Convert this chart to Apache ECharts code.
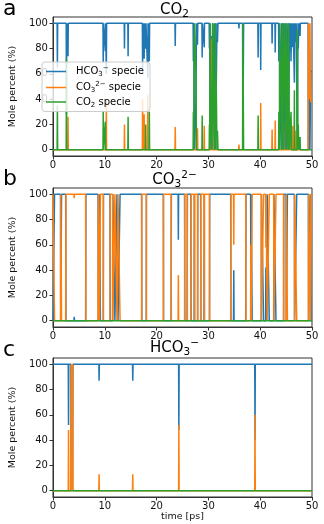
<!DOCTYPE html>
<html>
<head>
<meta charset="utf-8">
<script src="https://cdn.jsdelivr.net/npm/echarts@6.0.0/dist/echarts.min.js"></script>
<style>
  html, body { margin: 0; padding: 0; background: #fff; }
  #main { width: 324px; height: 524px; }
</style>
</head>
<body>
<div id="main"></div>
<script>
// species names, colours as in matplotlib tab10
var speciesNames = ['HCO₃⁻ specie', 'CO₃²⁻ specie', 'CO₂ specie'];
var speciesColors = ['#1f77b4', '#ff7f0e', '#2ca02c'];
var xTicks = [0, 10, 20, 30, 40, 50];
var yTicks = [0, 20, 40, 60, 80, 100];

// panel a: starting from CO2  [time ps, mole %]
var aHCO3 = [[0,100],[0.8,100],[0.85,65],[0.9,100],[2.55,100],[2.6,28],[2.65,100],[2.85,100],[2.9,74],[2.95,100],
  [9.65,100],[9.7,69],[9.75,100],[10.05,100],[10.1,78],[10.15,100],[10.25,100],[10.3,60],[10.35,100],
  [13.75,100],[13.8,80],[13.85,100],[14.45,100],[14.5,74],[14.55,100],
  [17.25,100],[17.3,60],[17.35,100],[17.55,100],[17.6,72],[17.65,100],[17.85,100],[17.9,80],[17.95,100],
  [18.25,100],[18.3,57],[18.35,100],[18.55,100],[18.6,70],[18.65,100],
  [23.55,100],[23.6,82],[23.65,100],
  [27.05,100],[27.1,70],[27.2,100],[27.25,12],[27.35,0],[27.5,0],[27.6,40],[27.7,100],[27.85,100],[27.9,83],[27.95,100],
  [28.75,100],[28.8,73],[28.85,100],[29.15,100],[29.2,81],[29.25,100],
  [30.15,100],[30.2,80],[30.25,100],[30.35,0],[30.45,0],[30.55,90],[30.7,12],[30.8,100],[30.85,0],[31.05,0],[31.15,100],
  [31.25,70],[31.3,100],[31.35,0],[31.45,0],[31.55,60],[31.65,100],[31.75,85],[31.85,100],
  [35.85,100],[35.9,96],[35.95,100],[36.6,100],[36.65,0],[36.75,0],[36.8,100],
  [39.55,100],[39.6,73],[39.65,100],[40.05,100],[40.1,63],[40.15,100],
  [42.25,100],[42.3,84],[42.35,100],[42.85,100],[42.9,77],[42.95,100],
  [43.55,100],[43.6,70],[43.7,100],[43.8,0],[43.95,0],[44.05,60],[44.15,100],[44.25,0],[44.35,0],[44.45,100],[44.5,78],[44.55,100],
  [44.65,0],[44.75,0],[44.85,50],[44.95,100],[45.05,0],[45.15,0],[45.25,85],[45.35,100],[45.45,0],[45.55,0],[45.65,100],
  [45.75,79],[45.85,100],[45.95,70],[46.05,100],[46.25,100],[46.3,81],[46.35,100],[46.55,100],[46.6,53],[46.65,100],
  [46.85,100],[46.9,85],[46.95,100],[47.1,100],[47.15,5],[47.25,5],[47.3,100],[47.35,80],[47.45,100],[47.65,100],[47.7,90],[47.75,100],
  [49.25,100],[49.3,0],[49.4,0],[49.45,60],[49.55,60],[49.6,0],[49.7,0],[49.75,62],[50,62]];
var aCO3 = [[0,0],[2.85,0],[2.9,26],[2.95,0],[10.25,0],[10.3,40],[10.35,0],[13.75,0],[13.8,20],[13.85,0],
  [17.25,0],[17.3,40],[17.35,0],[17.55,0],[17.6,28],[17.65,0],[18.25,0],[18.3,43],[18.35,0],
  [23.55,0],[23.6,18],[23.65,0],[27.85,0],[27.9,17],[27.95,0],[29.15,0],[29.2,19],[29.25,0],
  [30.55,0],[30.7,88],[30.8,0],[35.85,0],[35.9,4],[35.95,0],[40.05,0],[40.1,37],[40.15,0],
  [42.25,0],[42.3,16],[42.35,0],[42.85,0],[42.9,23],[42.95,0],[44.45,0],[44.5,22],[44.55,0],
  [45.65,0],[45.75,21],[45.85,0],[46.25,0],[46.3,19],[46.35,0],[46.85,0],[46.9,15],[46.95,0],
  [49.25,0],[49.3,100],[49.4,100],[49.45,40],[49.55,40],[49.6,100],[49.7,100],[49.75,38],[50,38]];
var aCO2 = [[0,0],[0.8,0],[0.85,35],[0.9,0],[2.55,0],[2.6,72],[2.65,0],[9.65,0],[9.7,31],[9.75,0],
  [10.05,0],[10.1,22],[10.15,0],[14.45,0],[14.5,26],[14.55,0],[17.85,0],[17.9,20],[17.95,0],[18.55,0],[18.6,30],[18.65,0],
  [27.05,0],[27.1,30],[27.2,0],[27.25,88],[27.35,100],[27.5,100],[27.6,60],[27.7,0],[28.75,0],[28.8,27],[28.85,0],
  [30.15,0],[30.2,20],[30.25,0],[30.35,100],[30.45,100],[30.55,10],[30.7,0],[30.8,0],[30.85,100],[31.05,100],[31.15,0],
  [31.25,30],[31.3,0],[31.35,100],[31.45,100],[31.55,40],[31.65,0],[31.75,15],[31.85,0],
  [36.6,0],[36.65,100],[36.75,100],[36.8,0],[39.55,0],[39.6,27],[39.65,0],
  [43.55,0],[43.6,30],[43.7,0],[43.8,100],[43.95,100],[44.05,40],[44.15,0],[44.25,100],[44.35,100],[44.45,0],[44.55,0],
  [44.65,100],[44.75,100],[44.85,50],[44.95,0],[45.05,100],[45.15,100],[45.25,15],[45.35,0],[45.45,100],[45.55,100],[45.65,0],
  [45.9,0],[45.95,30],[46.05,0],[46.55,0],[46.6,47],[46.65,0],[47.1,0],[47.15,95],[47.25,95],[47.3,0],[47.35,20],[47.45,0],
  [47.65,0],[47.7,10],[47.75,0],[50,0]];

// panel b: starting from CO3(2-)
var bHCO3 = [[0,0],[0.25,0],[0.3,100],[1.45,100],[1.5,0],[1.6,0],[1.65,100],[2.45,100],[2.5,0],[4.05,0],[4.1,3],[4.15,0],
  [6.3,0],[6.35,100],[8.7,100],[8.75,0],[8.95,0],[9.0,100],[9.1,100],[9.15,0],[9.7,0],[9.75,100],[11.0,100],[11.05,0],
  [11.5,0],[11.55,100],[11.9,100],[11.95,0],[12.3,0],[12.35,100],[12.5,100],[12.55,0],[12.9,0],[12.95,100],
  [17.1,100],[17.15,0],[18.0,0],[18.05,100],[21.3,100],[21.35,0],[22.8,0],[22.85,100],[24.15,100],[24.2,64],[24.25,100],
  [25.4,100],[25.45,0],[25.9,0],[25.95,100],[26.6,100],[26.65,0],[27.25,0],[27.3,100],[27.35,0],[27.9,0],[27.95,100],
  [28.5,100],[28.55,0],[29.15,0],[29.2,100],[29.25,0],[30.2,0],[30.25,100],[34.3,100],[34.35,0],[34.85,0],[34.9,40],[34.95,0],
  [37.2,0],[37.25,100],[38.15,100],[38.2,40],[38.25,100],[38.4,100],[38.45,0],[40.2,0],[40.25,100],[40.6,100],[40.65,0],
  [41.05,0],[41.1,42],[41.15,0],[41.3,0],[41.35,100],[41.7,100],[41.75,0],[42.6,0],[42.65,100],[43.0,100],[43.05,0],
  [44.5,0],[44.55,100],[45.0,100],[45.05,0],[45.2,0],[45.25,100],[46.6,100],[46.65,0],[47.0,0],[47.05,100],
  [49.3,100],[49.35,0],[49.6,0],[49.65,100],[49.75,100],[49.8,0],[50,0]];
var bCO3 = [[0,100],[0.25,100],[0.3,0],[1.45,0],[1.5,100],[1.6,100],[1.65,0],[2.45,0],[2.5,100],[4.05,100],[4.1,97],[4.15,100],
  [6.3,100],[6.35,0],[8.7,0],[8.75,100],[8.95,100],[9.0,0],[9.1,0],[9.15,100],[9.7,100],[9.75,0],[11.0,0],[11.05,100],
  [11.5,100],[11.55,0],[11.9,0],[11.95,100],[12.3,100],[12.35,0],[12.5,0],[12.55,100],[12.9,100],[12.95,0],
  [17.1,0],[17.15,100],[18.0,100],[18.05,0],[21.3,0],[21.35,100],[22.8,100],[22.85,0],[24.15,0],[24.2,36],[24.25,0],
  [25.4,0],[25.45,100],[25.9,100],[25.95,0],[26.6,0],[26.65,100],[27.25,100],[27.3,0],[27.35,100],[27.9,100],[27.95,0],
  [28.5,0],[28.55,100],[29.15,100],[29.2,0],[29.25,100],[30.2,100],[30.25,0],[34.3,0],[34.35,100],[34.85,100],[34.9,60],[34.95,100],
  [37.2,100],[37.25,0],[38.15,0],[38.2,60],[38.25,0],[38.4,0],[38.45,100],[40.2,100],[40.25,0],[40.6,0],[40.65,100],
  [41.05,100],[41.1,58],[41.15,100],[41.3,100],[41.35,0],[41.7,0],[41.75,100],[42.6,100],[42.65,0],[43.0,0],[43.05,100],
  [44.5,100],[44.55,0],[45.0,0],[45.05,100],[45.2,100],[45.25,0],[46.6,0],[46.65,100],[47.0,100],[47.05,0],
  [49.3,0],[49.35,100],[49.6,100],[49.65,0],[49.75,0],[49.8,100],[50,100]];
var bCO2 = [[0,0],[50,0]];

// panel c: starting from HCO3-
var cHCO3 = [[0,100],[2.95,100],[3.0,52],[3.05,100],[3.45,100],[3.5,0],[3.65,0],[3.72,33],[3.78,0],[3.85,100],
  [8.85,100],[8.9,87],[8.95,100],[15.35,100],[15.4,87],[15.45,100],[24.25,100],[24.3,48],[24.35,100],
  [38.95,100],[39.0,40],[39.05,100],[50,100]];
var cCO3 = [[0,0],[2.95,0],[3.0,48],[3.05,0],[3.45,0],[3.5,100],[3.65,100],[3.7,0],[3.75,0],[3.8,100],[3.85,0],
  [8.85,0],[8.9,13],[8.95,0],[15.35,0],[15.4,13],[15.45,0],[24.25,0],[24.3,52],[24.35,0],
  [38.95,0],[39.0,60],[39.05,0],[50,0]];
var cCO2 = [[0,0],[50,0]];

var panelData = [[aHCO3, aCO3, aCO2], [bHCO3, bCO3, bCO2], [cHCO3, cCO3, cCO2]];
var panelTops = [17, 188, 358];
var font = '"DejaVu Sans", sans-serif';

var dom = document.getElementById('main');
var myChart = echarts.init(dom, null, { renderer: 'canvas' });

var legendRich = {
  'HCO₃⁻ specie': '{n|HCO}{sb|3}{sp|−}{n| specie}',
  'CO₃²⁻ specie': '{n|CO}{sb|3}{sp|2−}{n| specie}',
  'CO₂ specie': '{n|CO}{sb|2}{n| specie}'
};
var richStyles = {
  n: { fontSize: 10, fontFamily: font, color: '#000' },
  sb: { fontSize: 7, fontFamily: font, color: '#000', padding: [6, 0, 0, 0] },
  sp: { fontSize: 7, fontFamily: font, color: '#000', padding: [0, 0, 6, 0] }
};
var titleRich = {
  m: { fontSize: 15, fontFamily: font, color: '#000' },
  sb: { fontSize: 10.5, fontFamily: font, color: '#000', padding: [8, 0, 0, 0] },
  sp: { fontSize: 10.5, fontFamily: font, color: '#000', padding: [0, 0, 9, 0] }
};
var titleTexts = ['{m|CO}{sb|2}', '{m|CO}{sb|3}{sp|2−}', '{m|HCO}{sb|3}{sp|−}'];
var titleY = [10, 180, 348];
var letters = ['a', 'b', 'c'];
var letterY = [9, 179, 350];

var grids = [], xAxes = [], yAxes = [], series = [], graphics = [];
panelTops.forEach(function (top, i) {
  grids.push({
    left: 37, width: 275, top: top, height: 139,
    show: true, borderColor: '#333', borderWidth: 1, backgroundColor: 'transparent'
  });
  xAxes.push({
    gridIndex: i, type: 'value', min: 0, max: 50, interval: 10,
    axisLine: { show: true, onZero: false, lineStyle: { color: '#333', width: 1 } },
    axisTick: { show: true, length: 3.5, lineStyle: { color: '#333' } },
    axisLabel: { fontSize: 10, fontFamily: font, color: '#111', margin: 4 },
    splitLine: { show: false },
    name: i === 2 ? 'time [ps]' : '',
    nameLocation: 'middle', nameGap: 13,
    nameTextStyle: { fontSize: 9.5, fontFamily: font, color: '#111' }
  });
  yAxes.push({
    gridIndex: i, type: 'value', min: -5, max: 105,
    axisLine: { show: true, lineStyle: { color: '#333', width: 1 } },
    axisTick: { show: true, length: 3.5, customValues: yTicks, lineStyle: { color: '#333' } },
    axisLabel: { fontSize: 10, fontFamily: font, color: '#111', margin: 5, customValues: yTicks },
    splitLine: { show: false },
    name: 'Mole percent (%)', nameLocation: 'middle', nameGap: 32,
    nameTextStyle: { fontSize: 9.5, fontFamily: font, color: '#111' }
  });
  panelData[i].forEach(function (d, k) {
    series.push({
      name: speciesNames[k], type: 'line', xAxisIndex: i, yAxisIndex: i,
      data: d, symbol: 'none', showSymbol: false, sampling: null,
      lineStyle: { color: speciesColors[k], width: 1.5 },
      itemStyle: { color: speciesColors[k] },
      animation: false
    });
  });
  graphics.push({
    type: 'text', x: 174.5, y: titleY[i],
    style: { text: titleTexts[i], rich: titleRich, align: 'center', verticalAlign: 'middle' }
  });
  graphics.push({
    type: 'text', x: 3, y: letterY[i],
    style: { text: letters[i], font: '22px ' + font, fill: '#000', align: 'left', verticalAlign: 'middle' }
  });
});

var option = {
  animation: false,
  backgroundColor: '#fff',
  grid: grids,
  xAxis: xAxes,
  yAxis: yAxes,
  legend: {
    data: speciesNames,
    orient: 'vertical', left: 42, top: 62,
    icon: 'rect',
    itemWidth: 20, itemHeight: 1.5, itemGap: 3,
    padding: [3, 6, 3, 4],
    backgroundColor: 'rgba(255,255,255,0.8)',
    borderColor: '#ccc', borderWidth: 1, borderRadius: 3,
    formatter: function (name) { return legendRich[name]; },
    textStyle: { fontSize: 10, fontFamily: font, color: '#000', rich: richStyles, padding: [0, 0, 0, 5] }
  },
  graphic: { elements: graphics },
  series: series
};

if (option && typeof option === 'object') {
  myChart.setOption(option);
}

window.addEventListener('resize', myChart.resize);
</script>
</body>
</html>
